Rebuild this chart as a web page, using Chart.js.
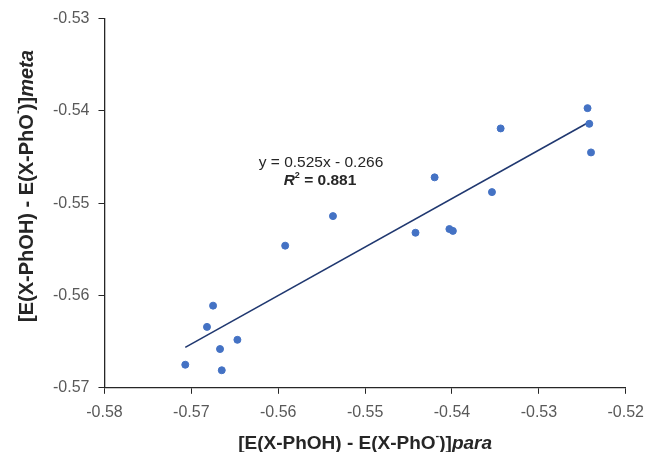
<!DOCTYPE html>
<html>
<head>
<meta charset="utf-8">
<script src="https://cdn.jsdelivr.net/npm/chart.js@4.4.1/dist/chart.umd.min.js"></script>
<style>
  html, body { margin: 0; padding: 0; background: #fff; }
  #wrap { width: 646px; height: 452px; }
</style>
</head>
<body>
<div id="wrap"><canvas id="chart" width="646" height="452"></canvas></div>
<script>
// values
const paraValues = [-0.5707, -0.5675, -0.5682, -0.5647, -0.5667, -0.5665, -0.5592, -0.5537, -0.5442,
                    -0.5420, -0.5403, -0.5399, -0.5354, -0.5344, -0.5244, -0.5242, -0.5240];
const metaValues = [-0.5675, -0.5611, -0.5634, -0.5648, -0.5658, -0.5681, -0.5546, -0.5514, -0.5532,
                    -0.5472, -0.5528, -0.5530, -0.5488, -0.5419, -0.5397, -0.5414, -0.5445];
const fitSlope = 0.525;
const fitIntercept = -0.266;
const fitLabel = "y = 0.525x - 0.266";
const r2Label = " = 0.881";
const xTitle = ["[E(X-PhOH) - E(X-PhO", "-", ")]", "para"];
const yTitle = ["[E(X-PhOH) - E(X-PhO", "-", ")]", "meta"];

const FONT = "Arial, 'Liberation Sans', sans-serif";

const points = paraValues.map((x, i) => ({ x: x, y: metaValues[i] }));
const xMin = Math.min(...paraValues);
const xMax = Math.max(...paraValues);
const fitLine = [xMin, xMax].map((x) => ({ x: x, y: fitSlope * x + fitIntercept }));

// draws a title made of [bold, superscript, bold, bold italic] parts, centred at 0,0
function drawTitle(ctx, parts, size) {
    const fonts = [
        "bold " + size + "px " + FONT,
        "bold " + Math.round(size * 0.6) + "px " + FONT,
        "bold " + size + "px " + FONT,
        "italic bold " + size + "px " + FONT,
    ];
    const widths = parts.map((p, i) => { ctx.font = fonts[i]; return ctx.measureText(p).width; });
    const total = widths.reduce((a, b) => a + b, 0);
    let x = -total / 2;
    parts.forEach((p, i) => {
        ctx.font = fonts[i];
        ctx.fillText(p, x, i === 1 ? -size * 0.4 : 0);
        x += widths[i];
    });
}

const annotations = {
    id: "annotations",
    afterDraw(chart) {
        const ctx = chart.ctx;
        const area = chart.chartArea;
        ctx.save();
        ctx.fillStyle = "#262626";
        ctx.textBaseline = "middle";

        // x axis title
        ctx.save();
        ctx.translate((area.left + area.right) / 2, 444);
        drawTitle(ctx, xTitle, 19);
        ctx.restore();

        // y axis title
        ctx.save();
        ctx.translate(27, 186);
        ctx.rotate(-Math.PI / 2);
        drawTitle(ctx, yTitle, 20);
        ctx.restore();

        // trendline equation
        ctx.textAlign = "center";
        ctx.font = "15.5px " + FONT;
        ctx.fillText(fitLabel, 321, 163);
        ctx.textAlign = "left";
        ctx.font = "italic bold 15.5px " + FONT;
        const rW = ctx.measureText("R").width;
        ctx.font = "bold 9px " + FONT;
        const sW = ctx.measureText("2").width;
        ctx.font = "bold 15.5px " + FONT;
        const eW = ctx.measureText(r2Label).width;
        let sx = 320 - (rW + sW + eW) / 2;
        ctx.font = "italic bold 15.5px " + FONT;
        ctx.fillText("R", sx, 181);
        sx += rW;
        ctx.font = "bold 9px " + FONT;
        ctx.fillText("2", sx, 176);
        sx += sW;
        ctx.font = "bold 15.5px " + FONT;
        ctx.fillText(r2Label, sx, 181);
        ctx.restore();
    },
};

new Chart(document.getElementById("chart").getContext("2d"), {
    type: "scatter",
    data: {
        datasets: [
            {
                label: "data",
                data: points,
                backgroundColor: "#4472C4",
                borderColor: "#4472C4",
                pointRadius: 3.5,
                pointHoverRadius: 3.5,
            },
            {
                label: "fit",
                data: fitLine,
                showLine: true,
                borderColor: "#203870",
                borderWidth: 1.6,
                pointRadius: 0,
                fill: false,
            },
        ],
    },
    options: {
        responsive: false,
        animation: false,
        layout: { padding: { left: 44, top: 16, right: 0, bottom: 21 } },
        plugins: {
            legend: { display: false },
            tooltip: { enabled: false },
        },
        scales: {
            x: {
                type: "linear",
                min: -0.58,
                max: -0.52,
                afterFit: (scale) => { scale.paddingRight = Math.max(0, scale.paddingRight - 7); },
                ticks: {
                    stepSize: 0.01,
                    padding: 9,
                    color: "#595959",
                    font: { family: FONT, size: 16 },
                    callback: (v) => v.toFixed(2),
                },
                grid: { drawOnChartArea: false, color: "#262626", tickLength: 6 },
                border: { color: "#262626", width: 1.3 },
            },
            y: {
                type: "linear",
                min: -0.57,
                max: -0.53,
                ticks: {
                    stepSize: 0.01,
                    padding: 9,
                    color: "#595959",
                    font: { family: FONT, size: 16 },
                    callback: (v) => v.toFixed(2),
                },
                grid: { drawOnChartArea: false, color: "#262626", tickLength: 6 },
                border: { color: "#262626", width: 1.3 },
            },
        },
    },
    plugins: [annotations],
});
</script>
</body>
</html>
